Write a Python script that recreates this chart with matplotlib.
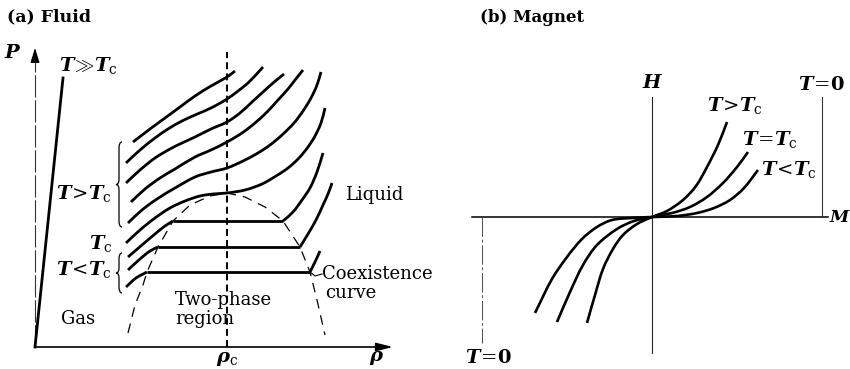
import numpy as np
import matplotlib
matplotlib.use("Agg")
import matplotlib.pyplot as plt
from matplotlib.path import Path
from matplotlib.patches import PathPatch

plt.rcParams["font.family"] = ["DejaVu Serif"]
plt.rcParams["mathtext.fontset"] = "custom"
plt.rcParams["mathtext.it"] = "DejaVu Serif:italic:bold"
plt.rcParams["mathtext.rm"] = "DejaVu Serif"
plt.rcParams["mathtext.bf"] = "DejaVu Serif:bold"
plt.rcParams["lines.scale_dashes"] = False

# ---------- (a) fluid: isotherms in the (rho, P) plane ----------
rho_c = 192
iso_above = [  # T > Tc, top to bottom
    [(98, 205), (115, 218), (130, 229), (145, 240), (160, 251), (176, 261), (192, 270), (200, 276)],
    [(91, 184), (105, 197), (120, 209), (133, 218), (147, 226), (160, 232), (176, 239), (192, 248),
     (203, 256), (214, 265), (228, 280)],
    [(91, 164), (105, 177), (120, 189), (135, 198), (147, 204), (160, 210), (176, 218), (192, 225),
     (205, 234), (217, 245), (228, 255), (238, 264), (249, 273)],
    [(96, 145), (110, 158), (125, 169), (140, 178), (160, 190), (176, 197), (192, 205), (207, 214),
     (220, 224), (232, 235), (243, 247), (253, 258), (260, 267), (268, 277)],
    [(93, 124), (107, 137), (122, 148), (140, 159), (160, 170), (176, 175), (192, 179), (208, 186),
     (223, 194), (235, 202), (247, 212), (259, 224), (268, 236), (276, 249), (282, 262), (286, 275)],
]
iso_crit = [(91, 104), (105, 117), (120, 129), (135, 139), (150, 146), (165, 151), (178, 153), (192, 154),
            (210, 157), (227, 163), (241, 171), (253, 179), (264, 189), (273, 200), (280, 211),
            (286, 224), (290, 239)]
iso_below = [  # T < Tc, with flat coexistence plateaus
    [(93, 90), (107, 102), (120, 113), (130, 121), (138, 126), (248, 126), (258, 135), (267, 147),
     (275, 159), (282, 175), (288, 194)],
    [(93, 77), (105, 88), (115, 96), (123, 100), (265, 100), (273, 113), (281, 127), (288, 142),
     (293, 153), (297, 164)],
    [(91, 60), (101, 69), (112, 75), (275, 75), (280, 85), (285, 96)],
]
coex = [(93, 14), (100, 42), (108, 62), (112, 75), (123, 100), (138, 126), (155, 142), (175, 151),
        (192, 154), (210, 150), (230, 140), (248, 126), (265, 100), (275, 75), (282, 47), (290, 12)]
hot_line = [(0, 0), (28, 269)]   # T >> Tc, ideal-gas-like

# ---------- (b) magnet: M(H) isotherms ----------
mag_above = [(-65, -106), (-57, -78), (-49, -52), (-39, -32), (-29, -18), (-15, -7), (0, 0),
             (15, 6), (31, 17), (44, 31), (55, 50), (66, 72), (75, 95)]
mag_crit = [(-95, -105), (-82, -75), (-69, -48), (-55, -28), (-35, -12), (-18, -4), (0, 0),
            (20, 4), (38, 10), (55, 20), (71, 34), (85, 50), (96, 65)]
mag_below = [(-117, -96), (-100, -62), (-85, -40), (-70, -22), (-55, -10), (-40, -3), (-20, -1), (0, 0),
             (25, 1), (45, 4), (62, 9), (78, 17), (92, 29), (106, 47)]

fig = plt.figure(figsize=(8.5, 3.69), dpi=100)
ax1 = fig.add_axes([0, 0, 430 / 850, 1])
ax2 = fig.add_axes([430 / 850, 0, 420 / 850, 1])
ax1.set_xlim(-35, 395); ax1.set_ylim(-22, 347)
ax2.set_xlim(-222, 198); ax2.set_ylim(-152, 217)
for ax in (ax1, ax2):
    ax.axis("off")


def smooth(ax, pts, lw=2.0, split=40):
    """Smooth cubic path through the points; long segments (plateaus) stay straight."""
    a = np.array(pts, dtype=float)
    runs, cur = [], [a[0]]
    for p in a[1:]:
        if np.hypot(*(p - cur[-1])) > split:
            runs.append(np.array(cur))
            runs.append(np.array([cur[-1], p]))
            cur = [p]
        else:
            cur.append(p)
    runs.append(np.array(cur))
    for r in runs:
        if len(r) < 2:
            continue
        if len(r) == 2:
            ax.plot(r[:, 0], r[:, 1], color="k", lw=lw, solid_capstyle="butt")
            continue
        n = len(r)
        tang = np.zeros_like(r)
        for i in range(n):
            d = r[min(i + 1, n - 1)] - r[max(i - 1, 0)]
            tang[i] = d / np.hypot(*d)
        verts, codes = [r[0]], [Path.MOVETO]
        for i in range(n - 1):
            L = np.hypot(*(r[i + 1] - r[i])) / 3
            verts += [r[i] + tang[i] * L, r[i + 1] - tang[i + 1] * L, r[i + 1]]
            codes += [Path.CURVE4] * 3
        ax.add_patch(PathPatch(Path(verts, codes), fill=False, lw=lw, color="k", capstyle="butt"))


def brace(ax, x, y0, y1, w=6, lw=0.9):
    ym = (y0 + y1) / 2
    verts = [(x + w, y1), (x + w / 2, y1), (x + w / 2, y1 - 6),
             (x + w / 2, ym + 5), (x + w / 2, ym), (x, ym),
             (x + w / 2, ym), (x + w / 2, ym - 5),
             (x + w / 2, y0 + 6), (x + w / 2, y0), (x + w, y0)]
    codes = [Path.MOVETO, Path.CURVE3, Path.CURVE3, Path.LINETO, Path.CURVE3, Path.CURVE3,
             Path.CURVE3, Path.CURVE3, Path.LINETO, Path.CURVE3, Path.CURVE3]
    ax.add_patch(PathPatch(Path(verts, codes), fill=False, lw=lw, color="k"))


# axes of the fluid diagram
ax1.plot([0, 0], [0, 290], color="0.2", lw=0.8, ls=(0, (16, 2)))
ax1.annotate("", xy=(0, 299), xytext=(0, 285),
             arrowprops=dict(arrowstyle="-|>,head_length=0.9,head_width=0.28", color="k", lw=0.8,
                             shrinkA=0, shrinkB=0))
ax1.annotate("", xy=(358, 0), xytext=(0, 0),
             arrowprops=dict(arrowstyle="-|>,head_length=1.0,head_width=0.25", color="k", lw=1.2,
                             shrinkA=0, shrinkB=0))
ax1.plot([rho_c, rho_c], [0, 295], color="k", lw=1.4, ls=(0, (5, 3)))
ax1.plot(*np.array(hot_line, dtype=float).T, color="k", lw=2.0)
for pts in iso_above + [iso_crit] + iso_below:
    smooth(ax1, pts, lw=2.0)
cx = np.array(coex, dtype=float)
ax1.plot(cx[:, 0], cx[:, 1], color="k", lw=0.9, ls=(0, (7, 5)))
ax1.plot([275, 280, 287], [75, 71, 73], color="k", lw=0.8)

brace(ax1, 81, 120, 205)
brace(ax1, 81, 54, 94)

ax1.text(7 - 35, 347 - 17, "(a) Fluid", fontsize=12.5, fontweight="bold", va="center", ha="left")
ax1.text(13 - 35, 347 - 53, "$P$", fontsize=14, ha="center", va="center")
ax1.text(377 - 35, -11, r"$\rho$", fontsize=14, ha="center", va="center")
ax1.text(rho_c, -12, r"$\rho_{\rm c}$", fontsize=14, ha="center", va="center")
ax1.text(88 - 35, 347 - 65, r"$T\!\gg\! T_{\rm c}$", fontsize=14, ha="center", va="center")
ax1.text(84 - 35, 347 - 193, r"$T\!>\!T_{\rm c}$", fontsize=14, ha="center", va="center")
ax1.text(101 - 35, 347 - 244, r"$T_{\rm c}$", fontsize=14, ha="center", va="center")
ax1.text(84 - 35, 347 - 270, r"$T\!<\!T_{\rm c}$", fontsize=14, ha="center", va="center")
ax1.text(374 - 35, 347 - 195, "Liquid", fontsize=13, ha="center", va="center")
ax1.text(78 - 35, 347 - 319, "Gas", fontsize=13, ha="center", va="center")
ax1.text(175 - 35, 347 - 300, "Two-phase", fontsize=13, ha="left", va="center")
ax1.text(175 - 35, 347 - 319, "region", fontsize=13, ha="left", va="center")
ax1.text(322 - 35, 347 - 274, "Coexistence", fontsize=13, ha="left", va="center")
ax1.text(325 - 35, 347 - 293, "curve", fontsize=13, ha="left", va="center")

# axes of the magnet diagram
ax2.plot([0, 0], [-136, 120], color="0.15", lw=0.8)
ax2.plot([-180, 176], [0, 0], color="k", lw=1.1)
ax2.plot([170, 170], [0, 120], color="0.2", lw=0.8)
ax2.plot([-170, -170], [0, -126], color="0.3", lw=0.7, ls=(0, (14, 2, 2, 2)))
for pts in (mag_above, mag_crit, mag_below):
    smooth(ax2, pts, lw=1.9)

ax2.text(480 - 652, 217 - 17, "(b) Magnet", fontsize=12, fontweight="bold", va="center", ha="left")
ax2.text(1, 134, "$H$", fontsize=14, ha="center", va="center")
ax2.text(177, 0, "$M$", fontsize=12.5, ha="left", va="center")
ax2.text(169, 132, r"$T\!=\!\mathbf{0}$", fontsize=14, ha="center", va="center")
ax2.text(-164, -141, r"$T\!=\!\mathbf{0}$", fontsize=14, ha="center", va="center")
ax2.text(83, 112, r"$T\!>\!T_{\rm c}$", fontsize=14, ha="center", va="center")
ax2.text(118, 78, r"$T\!=\!T_{\rm c}$", fontsize=14, ha="center", va="center")
ax2.text(137, 47, r"$T\!<\!T_{\rm c}$", fontsize=14, ha="center", va="center")

fig.savefig("out.png", dpi=100)
